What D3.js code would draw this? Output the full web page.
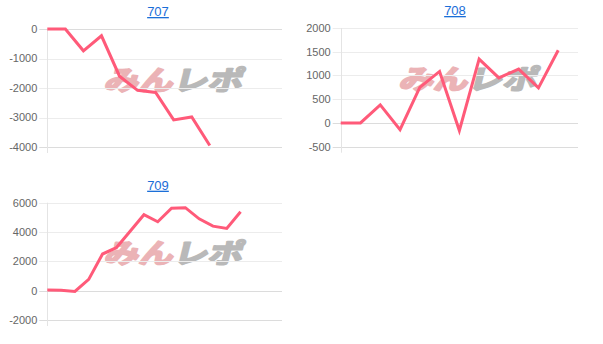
<!DOCTYPE html>
<html>
<head>
<meta charset="utf-8">
<script src="https://cdn.jsdelivr.net/npm/d3@7"></script>
<style>
  body { margin: 0; background: #fff; }
  svg { display: block; font-family: Arial, "Liberation Sans", sans-serif; }
</style>
</head>
<body>
<div class="container"></div>
<script>
"use strict";

// chart titles
const titles = ["707", "708", "709"];

// x categories (labels are not shown in the chart)
const cats707 = ["1", "2", "3", "4", "5", "6", "7", "8", "9", "10", "11", "12", "13", "14"];
const cats708 = ["1", "2", "3", "4", "5", "6", "7", "8", "9", "10", "11", "12", "13"];
const cats709 = ["1", "2", "3", "4", "5", "6", "7", "8", "9", "10", "11", "12", "13", "14", "15", "16", "17", "18"];

// values
const values707 = [0, 0, -740, -230, -1600, -2080, -2150, -3080, -2980, -3950];
const values708 = [0, 0, 380, -140, 750, 1085, -160, 1345, 950, 1135, 740, 1530];
const values709 = [40, 30, -50, 770, 2500, 2930, 4050, 5180, 4700, 5620, 5660, 4900, 4400, 4250, 5380];

// y ticks
const ticks707 = [0, -1000, -2000, -3000, -4000];
const ticks708 = [2000, 1500, 1000, 500, 0, -500];
const ticks709 = [6000, 4000, 2000, 0, -2000];

const lineColor = "#ff5a79";

const svg = d3
  .select(".container")
  .append("svg")
  .attr("width", 603)
  .attr("height", 344);

//draws one small chart
const makeChart = (opt) => {
  const g = svg.append("g");

  const x = d3.scalePoint().domain(opt.cats).range([opt.left, opt.right]);
  const y = d3
    .scaleLinear()
    .domain([d3.min(opt.ticks), d3.max(opt.ticks)])
    .range([opt.bottom, opt.top]);

  // title (link style)
  g.append("text")
    .attr("x", opt.titleX)
    .attr("y", opt.top - 13)
    .attr("text-anchor", "middle")
    .attr("fill", "#1a6ed8")
    .attr("text-decoration", "underline")
    .style("font-size", "13px")
    .text(opt.title);

  // watermark
  const cx = (opt.left + opt.right) / 2 + 8;
  const cy = (opt.top + opt.bottom) / 2 + 2;
  const wm = g
    .append("text")
    .attr("transform", "translate(" + cx + "," + cy + ") skewX(-14) scale(1.28,1)")
    .attr("text-anchor", "middle")
    .style("font-family", "'Noto Sans CJK JP'")
    .style("font-weight", "bold")
    .style("font-size", "27px")
    .attr("stroke-width", 2)
    .attr("stroke-linejoin", "round");
  wm.append("tspan").attr("fill", "#ebb3b6").attr("stroke", "#ebb3b6").text("みん");
  wm.append("tspan").attr("fill", "#b9b9b9").attr("stroke", "#b9b9b9").text("レポ");

  // grid
  g.append("g")
    .selectAll("line")
    .data(opt.ticks)
    .enter()
    .append("line")
    .attr("x1", opt.left - 8)
    .attr("x2", opt.right)
    .attr("y1", (d) => Math.round(y(d)) + 0.5)
    .attr("y2", (d) => Math.round(y(d)) + 0.5)
    .attr("stroke", (d) => (d === 0 || d === d3.min(opt.ticks) ? "#dcdcdc" : "#ececec"))
    .attr("stroke-width", 1);

  // left axis line
  g.append("line")
    .attr("x1", Math.round(opt.left) + 0.5)
    .attr("x2", Math.round(opt.left) + 0.5)
    .attr("y1", opt.top)
    .attr("y2", opt.bottom + 6)
    .attr("stroke", "#e4e4e4");

  // tick labels
  g.append("g")
    .selectAll("text")
    .data(opt.ticks)
    .enter()
    .append("text")
    .attr("x", opt.left - 10)
    .attr("y", (d) => y(d))
    .attr("dy", "0.35em")
    .attr("text-anchor", "end")
    .attr("fill", "#666")
    .style("font-size", "11px")
    .text((d) => d);

  // line
  const line = d3
    .line()
    .x((d, i) => x(opt.cats[i]))
    .y((d) => y(d));

  g.append("path")
    .datum(opt.values)
    .attr("d", line)
    .attr("fill", "none")
    .attr("stroke", lineColor)
    .attr("stroke-width", 3)
    .attr("stroke-linejoin", "miter");
};

makeChart({
  title: titles[0], cats: cats707, values: values707, ticks: ticks707,
  left: 47.3, right: 282, top: 29, bottom: 147, titleX: 158
});
makeChart({
  title: titles[1], cats: cats708, values: values708, ticks: ticks708,
  left: 340.7, right: 578, top: 28, bottom: 146.7, titleX: 455
});
makeChart({
  title: titles[2], cats: cats709, values: values709, ticks: ticks709,
  left: 47.3, right: 282, top: 202.7, bottom: 320, titleX: 158
});
</script>
</body>
</html>
